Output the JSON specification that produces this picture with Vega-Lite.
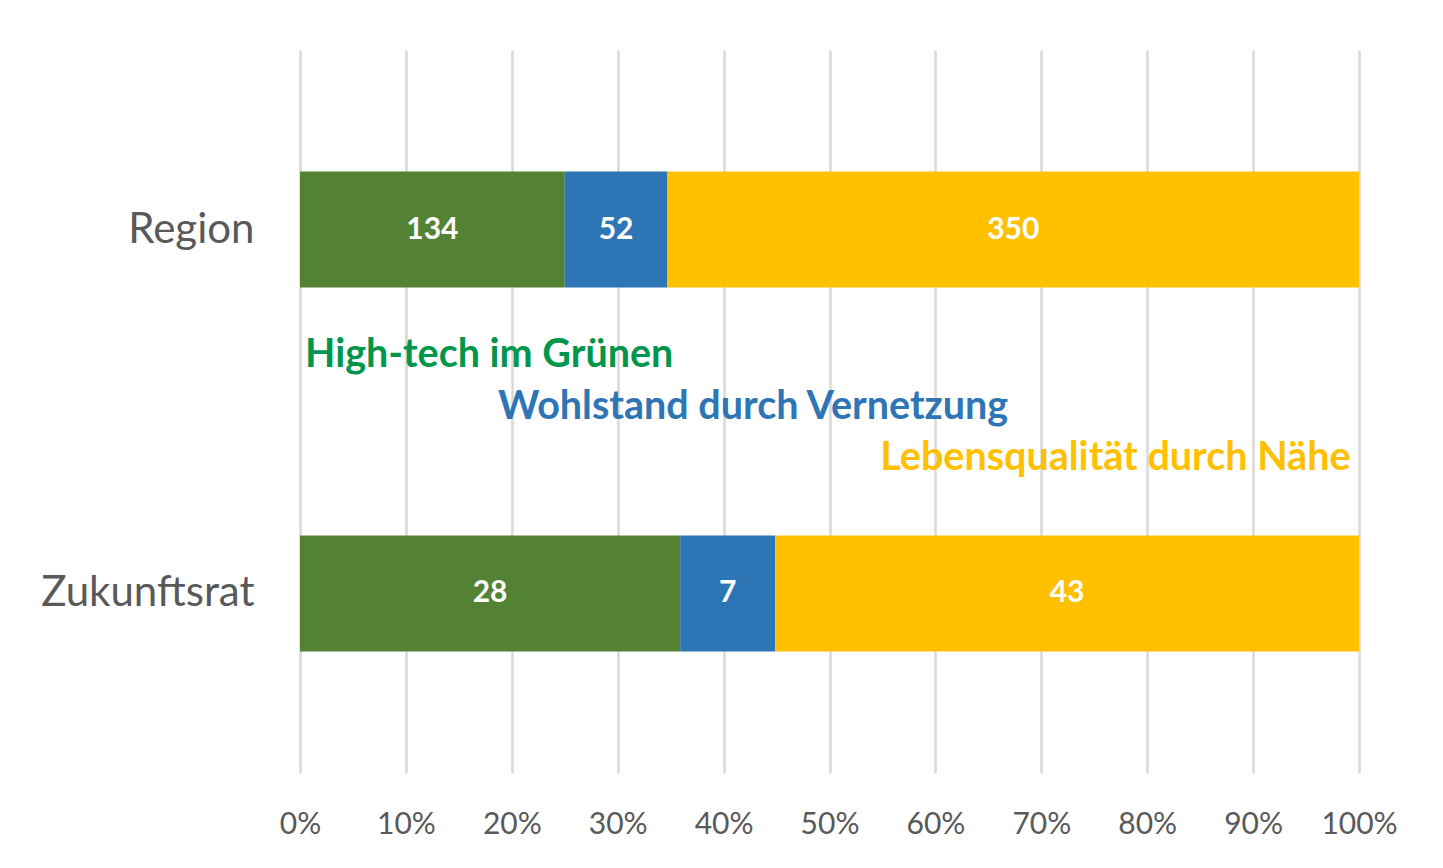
{
  "$schema": "https://vega.github.io/schema/vega-lite/v6.json",
  "width": 1059,
  "height": 723,
  "autosize": {"type": "none"},
  "padding": {"left": 300, "top": 50, "right": 84, "bottom": 95},
  "background": "white",
  "config": {
    "view": {"stroke": null},
    "font": "Lato",
    "axis": {"labelFont": "Lato", "labelColor": "#595959"}
  },
  "resolve": {"scale": {"y": "independent", "color": "independent"}, "axis": {"y": "independent"}},
  "layer": [
    {
      "data": {
        "values": [
          {"category": "Region", "series": "High-tech im Grünen", "value": 134, "order": 1},
          {"category": "Region", "series": "Wohlstand durch Vernetzung", "value": 52, "order": 2},
          {"category": "Region", "series": "Lebensqualität durch Nähe", "value": 350, "order": 3},
          {"category": "Zukunftsrat", "series": "High-tech im Grünen", "value": 28, "order": 1},
          {"category": "Zukunftsrat", "series": "Wohlstand durch Vernetzung", "value": 7, "order": 2},
          {"category": "Zukunftsrat", "series": "Lebensqualität durch Nähe", "value": 43, "order": 3}
        ]
      },
      "encoding": {
        "y": {
          "field": "category", "type": "nominal", "sort": ["Region", "Zukunftsrat"],
          "scale": {"paddingInner": 0.681, "paddingOuter": 0.334},
          "axis": {"title": null, "domain": false, "ticks": false, "labelPadding": 46, "labelFontSize": 42, "labelLimit": 400, "labelColor": "#595959"}
        },
        "order": {"field": "order", "type": "quantitative"}
      },
      "layer": [
        {
          "mark": {"type": "bar"},
          "encoding": {
            "x": {
              "field": "value", "type": "quantitative", "stack": "normalize",
              "scale": {"domain": [0, 1], "nice": false},
              "axis": {"title": null, "format": ".0%", "values": [0, 0.1, 0.2, 0.3, 0.4, 0.5, 0.6, 0.7, 0.8, 0.9, 1.0], "domain": false, "ticks": false, "grid": true, "gridColor": "#d9d9d9", "gridWidth": 2.5, "labelPadding": 36, "labelFontSize": 30, "labelColor": "#595959", "labelBaseline": "top", "labelFlush": false, "labelOverlap": false}
            },
            "color": {
              "field": "series", "type": "nominal",
              "scale": {"domain": ["High-tech im Grünen", "Wohlstand durch Vernetzung", "Lebensqualität durch Nähe"], "range": ["#548235", "#2E75B6", "#FFC000"]},
              "legend": null
            }
          }
        },
        {
          "mark": {"type": "text", "color": "white", "fontWeight": "bold", "fontSize": 30, "font": "Lato", "align": "center", "baseline": "middle"},
          "encoding": {
            "x": {"field": "value", "type": "quantitative", "stack": "normalize", "bandPosition": 0.5},
            "text": {"field": "value", "type": "quantitative"}
          }
        }
      ]
    },
    {
      "data": {
        "values": [
          {"label": "High-tech im Grünen", "pos": 0.0047, "row": 0.422},
          {"label": "Wohlstand durch Vernetzung", "pos": 0.187, "row": 0.494},
          {"label": "Lebensqualität durch Nähe", "pos": 0.548, "row": 0.564}
        ]
      },
      "mark": {"type": "text", "align": "left", "baseline": "middle", "fontWeight": "bold", "fontSize": 39.5, "font": "Lato"},
      "encoding": {
        "x": {"field": "pos", "type": "quantitative"},
        "y": {"field": "row", "type": "quantitative", "scale": {"domain": [0, 1], "reverse": true}, "axis": null},
        "text": {"field": "label", "type": "nominal"},
        "color": {
          "field": "label", "type": "nominal",
          "scale": {"domain": ["High-tech im Grünen", "Wohlstand durch Vernetzung", "Lebensqualität durch Nähe"], "range": ["#00964B", "#2E75B6", "#FFC000"]},
          "legend": null
        }
      }
    }
  ]
}
